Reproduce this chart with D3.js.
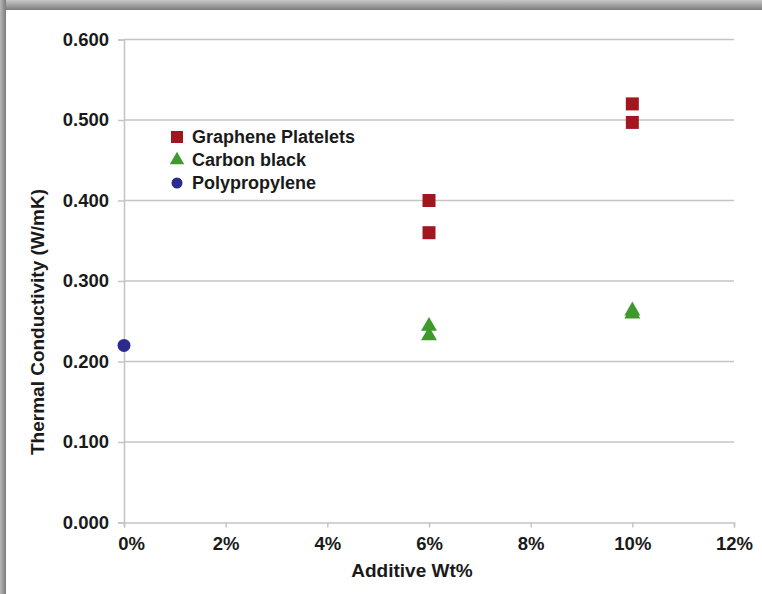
<!DOCTYPE html>
<html>
<head>
<meta charset="utf-8">
<script src="https://cdn.jsdelivr.net/npm/d3@7"></script>
<style>
  body { margin: 0; background: #fff; }
  svg text { font-family: "Liberation Sans", Arial, sans-serif; font-weight: bold; fill: #1a1a1a; }
</style>
</head>
<body>
<svg id="chart" width="762" height="594"></svg>
<script>
// x in %, y in W/mK
var grapheneX = [6, 6, 10, 10];
var grapheneY = [0.400, 0.360, 0.520, 0.497];
var carbonX = [6, 6, 10, 10];
var carbonY = [0.244, 0.232, 0.263, 0.259];
var ppX = [0];
var ppY = [0.220];
var xTicks = [0, 2, 4, 6, 8, 10, 12];
var yTicks = [0, 0.1, 0.2, 0.3, 0.4, 0.5, 0.6];
var legendNames = ["Graphene Platelets", "Carbon black", "Polypropylene"];

var colors = { graphene: "#a3161f", carbon: "#3f9a2c", pp: "#2c2a8e" };

var svg = d3.select("#chart");

// frame (gray border on top and left)
var defs = svg.append("defs");
var gTop = defs.append("linearGradient").attr("id", "topband").attr("x1", 0).attr("y1", 0).attr("x2", 0).attr("y2", 1);
gTop.append("stop").attr("offset", "0%").attr("stop-color", "#c8c8c8");
gTop.append("stop").attr("offset", "100%").attr("stop-color", "#7c7c7c");
var gLeft = defs.append("linearGradient").attr("id", "leftband").attr("x1", 0).attr("y1", 0).attr("x2", 1).attr("y2", 0);
gLeft.append("stop").attr("offset", "0%").attr("stop-color", "#b8b8b8");
gLeft.append("stop").attr("offset", "100%").attr("stop-color", "#7a7a7a");
svg.append("rect").attr("x", 0).attr("y", 0).attr("width", 762).attr("height", 10).attr("fill", "url(#topband)");
svg.append("rect").attr("x", 0).attr("y", 0).attr("width", 6).attr("height", 594).attr("fill", "url(#leftband)");

var x = d3.scaleLinear().domain([0, 12]).range([124, 734]);
var y = d3.scaleLinear().domain([0, 0.6]).range([522.5, 39.5]);

// gridlines
svg.append("g")
  .selectAll("line")
  .data(yTicks.slice(1))
  .enter().append("line")
  .attr("x1", x(0)).attr("x2", x(12))
  .attr("y1", function(d) { return y(d); })
  .attr("y2", function(d) { return y(d); })
  .attr("stroke", "#c4c4c4")
  .attr("stroke-width", 1.5);

// axes
var yAxis = svg.append("g")
  .attr("transform", "translate(" + x(0) + ",0)")
  .call(d3.axisLeft(y).tickValues(yTicks).tickFormat(d3.format(".3f")).tickSize(6).tickPadding(9));
var xAxis = svg.append("g")
  .attr("transform", "translate(0," + y(0) + ")")
  .call(d3.axisBottom(x).tickValues(xTicks).tickFormat(function(d) { return d + "%"; }).tickSize(5).tickPadding(9));

[yAxis, xAxis].forEach(function(a) {
  a.select(".domain").attr("stroke", "#c4c4c4").attr("stroke-width", 1.5);
  a.selectAll(".tick line").attr("stroke", "#c4c4c4").attr("stroke-width", 1.5);
  a.selectAll("text").style("font-size", "18.5px").attr("fill", "#1a1a1a");
});
// the 0% label sits a little right of its tick in the original
xAxis.selectAll(".tick text").filter(function(d) { return d === 0; }).attr("dx", 7);

// axis titles
svg.append("text")
  .attr("x", 412).attr("y", 577)
  .attr("text-anchor", "middle")
  .style("font-size", "19px")
  .text("Additive Wt%");
svg.append("text")
  .attr("transform", "translate(44,322) rotate(-90)")
  .attr("text-anchor", "middle")
  .style("font-size", "19px")
  .text("Thermal Conductivity (W/mK)");

var square = d3.symbol().type(d3.symbolSquare).size(169);
var triangle = d3.symbol().type(d3.symbolTriangle).size(110);

// graphene
svg.append("g").selectAll("path")
  .data(d3.range(grapheneX.length))
  .enter().append("path")
  .attr("d", square)
  .attr("transform", function(i) { return "translate(" + x(grapheneX[i]) + "," + y(grapheneY[i]) + ")"; })
  .attr("fill", colors.graphene);

// carbon black
svg.append("g").selectAll("path")
  .data(d3.range(carbonX.length))
  .enter().append("path")
  .attr("d", triangle)
  .attr("transform", function(i) { return "translate(" + x(carbonX[i]) + "," + y(carbonY[i]) + ")"; })
  .attr("fill", colors.carbon);

// polypropylene
svg.append("g").selectAll("circle")
  .data(d3.range(ppX.length))
  .enter().append("circle")
  .attr("cx", function(i) { return x(ppX[i]); })
  .attr("cy", function(i) { return y(ppY[i]); })
  .attr("r", 6.5)
  .attr("fill", colors.pp);

// legend
var legend = svg.append("g").attr("transform", "translate(177,137)");
var legendSymbols = [d3.symbol().type(d3.symbolSquare).size(144)(), d3.symbol().type(d3.symbolTriangle).size(90)(), null];
var legendColors = [colors.graphene, colors.carbon, colors.pp];
legendNames.forEach(function(name, i) {
  var row = legend.append("g").attr("transform", "translate(0," + (i * 23) + ")");
  if (legendSymbols[i]) {
    row.append("path").attr("d", legendSymbols[i]).attr("fill", legendColors[i]);
  } else {
    row.append("circle").attr("r", 5.5).attr("fill", legendColors[i]);
  }
  row.append("text").attr("x", 15).attr("y", 6).style("font-size", "18px").text(name);
});
</script>
</body>
</html>
